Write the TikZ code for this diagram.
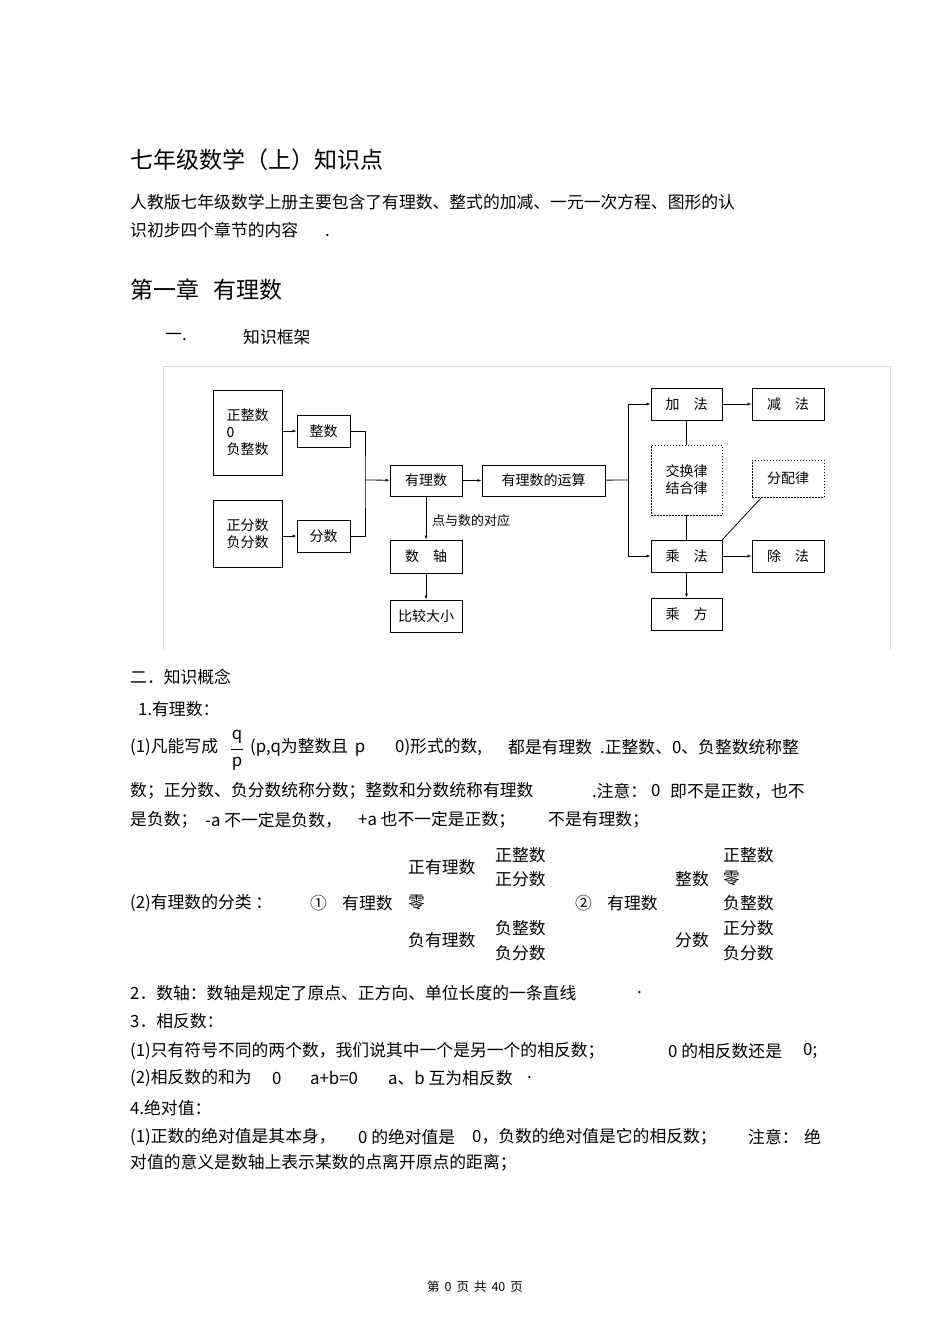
\documentclass[tikz,border=0pt]{standalone}
\usepackage{fontspec}
\setmainfont{Noto Sans CJK SC}
\usetikzlibrary{arrows.meta}
\begin{document}
\begin{tikzpicture}[x=1pt,y=-1pt,
 t/.style={anchor=west,inner sep=0pt,font=\fontsize{16.8}{19}\selectfont},
 big/.style={anchor=west,inner sep=0pt,font=\fontsize{23}{26}\selectfont},
 bx/.style={draw,line width=0.9pt,inner sep=0pt,font=\fontsize{14}{17}\selectfont,align=center},
 dbx/.style={bx,dash pattern=on 1.5pt off 1.5pt},
 ar/.style={-{Latex[length=4pt,width=3pt]},line width=0.8pt},
 ln/.style={line width=0.8pt}]
\useasboundingbox (0,0) rectangle (950,1344);
\fill[white] (0,0) rectangle (950,1344);
\node[big] (title) at (130,160) {七年级数学（上）知识点};
\node[t] (p1) at (130,202) {人教版七年级数学上册主要包含了有理数、整式的加减、一元一次方程、图形的认};
\node[t] (p2) at (130,230) {识初步四个章节的内容\hspace{1.6em}.};
\node[big] (ch1) at (130,290) {第一章\hspace{0.6em}有理数};
\node[t] (s1a) at (165,337) {一.};
\node[t] (s1b) at (243,337) {知识框架};
% diagram frame
\draw[gray!30,line width=0.8pt] (163,650) -- (163,366) -- (890,366) -- (890,650);
\node[bx,minimum width=69,minimum height=85,align=left] (zzs) at (247.5,432.5) {正整数\\0\\负整数};
\node[bx,minimum width=53,minimum height=32] (zs) at (323.5,431) {整数};
\node[bx,minimum width=69,minimum height=67] (zfs) at (247.5,533.5) {正分数\\负分数};
\node[bx,minimum width=53,minimum height=32] (fs) at (323.5,536) {分数};
\node[bx,minimum width=72,minimum height=31] (yls) at (426,480.5) {有理数};
\node[bx,minimum width=123,minimum height=31] (ys) at (543.5,480.5) {有理数的运算};
\node[bx,minimum width=72,minimum height=33] (sz) at (426,556.5) {数\hspace{1em}轴};
\node[bx,minimum width=72,minimum height=32] (bj) at (426,616) {比较大小};
\node[bx,minimum width=71,minimum height=32] (jia) at (686.5,404) {加\hspace{1em}法};
\node[bx,minimum width=72,minimum height=32] (jian) at (788,404) {减\hspace{1em}法};
\node[dbx,minimum width=71,minimum height=70] (jh) at (686.5,480) {交换律\\结合律};
\node[dbx,minimum width=72,minimum height=37] (fp) at (788,478.5) {分配律};
\node[bx,minimum width=71,minimum height=32] (cheng) at (686.5,556) {乘\hspace{1em}法};
\node[bx,minimum width=72,minimum height=32] (chu) at (788,556) {除\hspace{1em}法};
\node[bx,minimum width=71,minimum height=32] (cf) at (686.5,614) {乘\hspace{1em}方};
\node[anchor=west,inner sep=0pt,font=\fontsize{13}{15}\selectfont] (dy) at (432,521) {点与数的对应};
\coordinate (m1) at (365,480);
\coordinate (m2) at (628,480);
\draw[ar] (zzs.east |- zs) -- (zs);
\draw[ar] (zfs.east |- fs) -- (fs);
\draw[ln] (zs.east) -| (m1) |- (fs.east);
\draw[ar] (m1) -- (yls);
\draw[ar] (yls) -- (ys);
\draw[ar] (yls) -- (sz);
\draw[ar] (sz) -- (bj);
\draw[ln] (ys) -- (m2);
\draw[ar] (m2) |- (jia);
\draw[ar] (m2) |- (cheng);
\draw[ar] (jia) -- (jian);
\draw[ar] (cheng) -- (chu);
\draw[ar] (cheng) -- (cf);
\draw[ln] (jia) -- (jh);
\draw[ln] (jh) -- (cheng);
\draw[ln] (fp.south west)++(10,0) -- (cheng.north east);
% text
\node[t] (s2) at (130,677) {二．知识概念};
\node[t] (s21) at (138,709) {1.有理数：};
\node[t] (a1) at (130,747) {(1)凡能写成};
\node[inner sep=0pt,font=\fontsize{16.8}{19}\selectfont] (fq) at (237,737) {q};
\node[inner sep=0pt,font=\fontsize{16.8}{19}\selectfont] (fp2) at (237,764) {p};
\draw[line width=0.6pt] (231,749) -- (243,749);
\node[t] (a2) at (250,747) {(p,q为整数且\hspace{0.4em}p};
\node[t] (a3) at (395,747) {0)形式的数,};
\node[t] (a4) at (508,747) {都是有理数};
\node[t] (a5) at (600,747) {.正整数、0、负整数统称整};
\node[t] (b1) at (130,791) {数；正分数、负分数统称分数；整数和分数统称有理数};
\node[t] (b2) at (592,791) {.注意：};
\node[t] (b3) at (651,791) {0};
\node[t] (b4) at (670,791) {即不是正数，也不};
\node[t] (c1) at (130,820) {是负数；};
\node[t] (c2) at (205,820) {-a 不一定是负数，};
\node[t] (c3) at (358,820) {+a 也不一定是正数；};
\node[t] (c4) at (548,820) {不是有理数；};
\node[t] (d1) at (130,903) {(2)有理数的分类 ：};
\node[t] (d2) at (310,903) {①};
\node[t] (d3) at (342,903) {有理数};
\node[t] (d4) at (408,903) {零};
\node[t] (d5) at (408,867) {正有理数};
\node[t] (d6) at (495,855) {正整数};
\node[t] (d7) at (495,879) {正分数};
\node[t] (d8) at (408,940) {负有理数};
\node[t] (d9) at (495,928) {负整数};
\node[t] (d10) at (495,953) {负分数};
\node[t] (e1) at (575,903) {②};
\node[t] (e2) at (607,903) {有理数};
\node[t] (e3) at (675,879) {整数};
\node[t] (e4) at (723,855) {正整数};
\node[t] (e5) at (723,879) {零};
\node[t] (e6) at (723,903) {负整数};
\node[t] (e7) at (675,940) {分数};
\node[t] (e8) at (723,928) {正分数};
\node[t] (e9) at (723,953) {负分数};
\node[t] (f1) at (130,993) {2．数轴：数轴是规定了原点、正方向、单位长度的一条直线};
\node[t] (f2) at (637,993) {.};
\node[t] (g1) at (130,1021) {3．相反数：};
\node[t] (g2) at (130,1051) {(1)只有符号不同的两个数，我们说其中一个是另一个的相反数；};
\node[t] (g3) at (668,1051) {0 的相反数还是};
\node[t] (g4) at (803,1051) {0;};
\node[t] (h1) at (130,1078) {(2)相反数的和为};
\node[t] (h2) at (272,1078) {0};
\node[t] (h3) at (310,1078) {a+b=0};
\node[t] (h4) at (388,1078) {a、b 互为相反数};
\node[t] (h5) at (527,1078) {.};
\node[t] (i1) at (130,1108) {4.绝对值：};
\node[t] (i2) at (130,1137) {(1)正数的绝对值是其本身，};
\node[t] (i3) at (358,1137) {0 的绝对值是};
\node[t] (i4) at (472,1137) {0，负数的绝对值是它的相反数；};
\node[t] (i5) at (748,1137) {注意：};
\node[t] (i6) at (804,1137) {绝};
\node[t] (i7) at (130,1163) {对值的意义是数轴上表示某数的点离开原点的距离；};
\node[inner sep=0pt,font=\fontsize{12.5}{14}\selectfont] (foot) at (475,1287) {第\hspace{0.4em}0\hspace{0.4em}页\hspace{0.4em}共\hspace{0.4em}40\hspace{0.4em}页};
\end{tikzpicture}
\end{document}
